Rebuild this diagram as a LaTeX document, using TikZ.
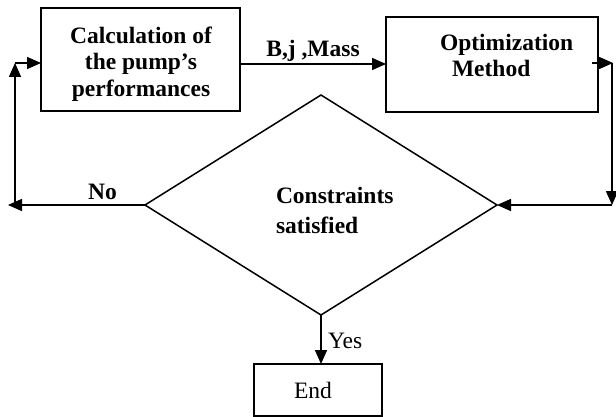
\documentclass[tikz,border=0pt]{standalone}
\usepackage{fontspec}
\setmainfont{Liberation Serif}
\usetikzlibrary{arrows.meta,shapes.geometric}
\begin{document}
\begin{tikzpicture}[x=1pt,y=-1pt,
  line width=1.5pt,
  every node/.style={inner sep=0pt, outer sep=0pt},
  txt/.style={font=\fontsize{23.5}{26.5}\selectfont\bfseries},
  rtxt/.style={font=\fontsize{23.5}{26.5}\selectfont},
  boxnode/.style={draw, rectangle},
  arr/.style={-{Triangle[length=14pt,width=12pt]}}]
\useasboundingbox (0,0) rectangle (616,417);
% boxes
\node[boxnode, minimum width=199pt, minimum height=103pt] (box1) at (140.5,59.5) {};
\node[txt, align=center] (calctext) at (141,64) {Calculation of\\the pump’s\\performances};
\node[boxnode, minimum width=212pt, minimum height=95pt] (box2) at (492,64.5) {};
\node[txt, align=left, anchor=north west] (opttext) at (440,33.7) {Optimization\\\hspace*{12pt}Method};
\node[draw, diamond, minimum width=352pt, minimum height=220pt] (dia) at (321,205) {};
\node[txt, align=left, anchor=north west] (contxt) at (276,186.7) {Constraints\\[3.5pt]satisfied};
\node[boxnode, minimum width=128pt, minimum height=52pt, rtxt] (endbox) at (318,390) {End\hspace*{10pt}};
% connectors
\draw[arr] (box1.east |- 0,64) -- node[txt, anchor=base, yshift=7pt] (lab1) {B,j ,Mass} (box2.west |- 0,64);
\coordinate (r1) at (613,63);
\coordinate (r2) at (612,205);
\coordinate (r0) at (612,63);
\draw[arr] ([xshift=-6pt]box2.east |- r1) -- (r1);
\draw[arr] (r0) -- (r2);
\draw[arr] (r2) -- (dia.east);
\coordinate (l0) at (8,205);
\coordinate (l1) at (15,206);
\coordinate (l2) at (15,63);
\draw[arr] (dia.west) -- node[txt, anchor=base, pos=0.31, yshift=5pt] (nolab) {No} (l0);
\draw[arr] (l1) -- (l2);
\draw[arr] (l2) -- (box1.west |- l2);
\draw[arr] (dia.south) -- (endbox.north -| dia.south);
\node[rtxt, anchor=base west] (yes) at (328,348) {Yes};
\end{tikzpicture}
\end{document}
